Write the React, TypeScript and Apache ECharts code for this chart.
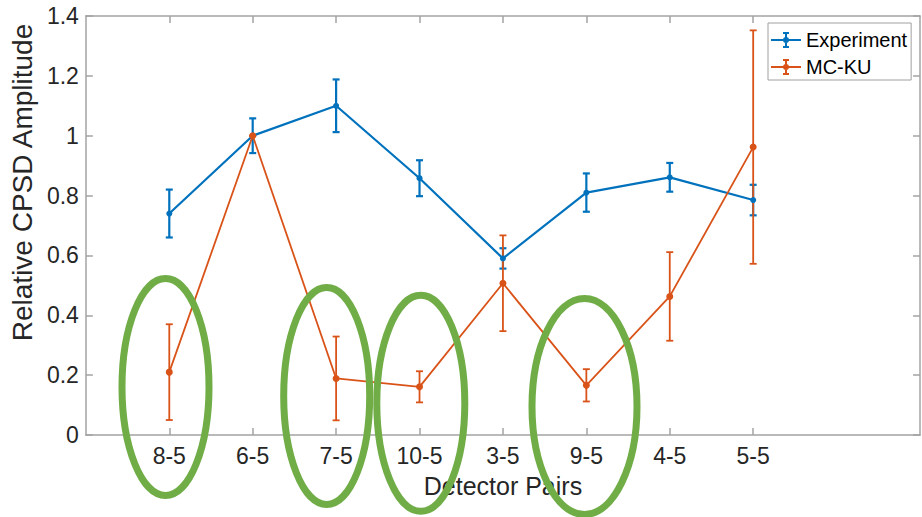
import React, { useEffect, useRef } from "react";
import * as echarts from "echarts";

const categories = ["8-5", "6-5", "7-5", "10-5", "3-5", "9-5", "4-5", "5-5"];
const expValues = [0.74, 1.0, 1.1, 0.858, 0.59, 0.81, 0.861, 0.785];
const expErrors = [0.08, 0.058, 0.088, 0.06, 0.034, 0.064, 0.048, 0.051];
const mcValues = [0.21, 1.0, 0.189, 0.161, 0.507, 0.166, 0.463, 0.962];
const mcErrors = [0.16, 0, 0.14, 0.052, 0.16, 0.054, 0.148, 0.39];
const yTicks = [0, 0.2, 0.4, 0.6, 0.8, 1, 1.2, 1.4];

const BLUE = "#0072BD";
const ORANGE = "#D95319";
const GREEN = "#70AD47";
const AXIS = "#a3a3a3";
const TEXT = "#262626";
const FONT = "'Liberation Sans', Arial, Helvetica, sans-serif";

const tickPositions = categories.map((_, i) => i + 1);

function lineData(values: number[]) {
  return values.map((v, i) => [i + 1, v]);
}
function errData(values: number[], errs: number[]) {
  return values.map((v, i) => [i + 1, v - errs[i], v + errs[i]]);
}

function errorSeries(name: string, values: number[], errs: number[], color: string, lw: number, cap: number) {
  return {
    name,
    type: "custom",
    xAxisIndex: 0,
    yAxisIndex: 0,
    data: errData(values, errs),
    encode: { x: 0, y: [1, 2] },
    silent: true,
    renderItem: (params: any, api: any) => {
      const x = api.value(0);
      const lo = api.coord([x, api.value(1)]);
      const hi = api.coord([x, api.value(2)]);
      const style = { stroke: color, lineWidth: lw, fill: "none" };
      return {
        type: "group",
        children: [
          { type: "line", shape: { x1: lo[0], y1: lo[1], x2: hi[0], y2: hi[1] }, style },
          { type: "line", shape: { x1: hi[0] - cap, y1: hi[1], x2: hi[0] + cap, y2: hi[1] }, style },
          { type: "line", shape: { x1: lo[0] - cap, y1: lo[1], x2: lo[0] + cap, y2: lo[1] }, style },
        ],
      };
    },
  };
}

const legendIcon =
  "path://M0,9H30V11H0Z M14,3H16V17H14Z M12,2H18V4H12Z M12,16H18V18H12Z M15,7A3,3 0 1 1 15,13A3,3 0 1 1 15,7Z";

export default function App() {
  const ref = useRef<HTMLDivElement>(null);
  useEffect(() => {
    if (!ref.current) return;
    const chart = echarts.init(ref.current, undefined, { renderer: "svg" });
    const axisLineStyle = { color: AXIS, width: 1.5 };
    chart.setOption({
      animation: false,
      backgroundColor: "#ffffff",
      textStyle: { fontFamily: FONT },
      grid: { left: 82, top: 16, right: 2, bottom: 82, containLabel: false },
      legend: {
        orient: "vertical",
        left: 768,
        top: 23,
        padding: [7, 4, 3, 3],
        itemGap: 7,
        itemWidth: 30,
        itemHeight: 16,
        borderColor: "#a0a0a0",
        borderWidth: 1,
        backgroundColor: "#ffffff",
        textStyle: { fontSize: 20, color: "#000000", fontFamily: FONT },
        data: [
          { name: "Experiment", icon: legendIcon },
          { name: "MC-KU", icon: legendIcon },
        ],
      },
      xAxis: [
        {
          type: "value",
          min: 0,
          max: 10,
          interval: 1,
          position: "bottom",
          name: "Detector Pairs",
          nameLocation: "middle",
          nameGap: 38,
          nameTextStyle: { fontSize: 25, color: TEXT, fontFamily: FONT },
          axisLine: { show: true, onZero: false, lineStyle: axisLineStyle },
          axisTick: { show: true, inside: true, length: 7, customValues: tickPositions, lineStyle: axisLineStyle },
          axisLabel: {
            show: true,
            customValues: tickPositions,
            formatter: (v: number) => categories[Math.round(v) - 1] ?? "",
            fontSize: 23,
            color: TEXT,
            margin: 9,
            fontFamily: FONT,
          },
          splitLine: { show: false },
        },
        {
          type: "value",
          min: 0,
          max: 10,
          interval: 1,
          position: "top",
          axisLine: { show: true, onZero: false, lineStyle: axisLineStyle },
          axisTick: { show: true, inside: true, length: 7, customValues: tickPositions, lineStyle: axisLineStyle },
          axisLabel: { show: false },
          splitLine: { show: false },
        },
      ],
      yAxis: [
        {
          type: "value",
          min: 0,
          max: 1.4,
          interval: 0.2,
          position: "left",
          name: "Relative CPSD Amplitude",
          nameLocation: "middle",
          nameGap: 42,
          nameTextStyle: { fontSize: 28, color: TEXT, fontFamily: FONT, padding: [0, 0, 0, 86] },
          axisLine: { show: true, onZero: false, lineStyle: axisLineStyle },
          axisTick: { show: true, inside: true, length: 7, lineStyle: axisLineStyle },
          axisLabel: {
            fontSize: 23,
            color: TEXT,
            margin: 7,
            fontFamily: FONT,
            formatter: (v: number) => {
              const t = yTicks.find((k) => Math.abs(k - v) < 1e-6);
              return String(t ?? v);
            },
          },
          splitLine: { show: false },
        },
        {
          type: "value",
          min: 0,
          max: 1.4,
          interval: 0.2,
          position: "right",
          axisLine: { show: true, onZero: false, lineStyle: axisLineStyle },
          axisTick: { show: true, inside: true, length: 7, lineStyle: axisLineStyle },
          axisLabel: { show: false },
          splitLine: { show: false },
        },
      ],
      series: [
        errorSeries("Experiment error", expValues, expErrors, BLUE, 2.2, 3.5),
        {
          name: "Experiment",
          type: "line",
          xAxisIndex: 0,
          yAxisIndex: 0,
          data: lineData(expValues),
          symbol: "circle",
          symbolSize: 6,
          color: BLUE,
          lineStyle: { color: BLUE, width: 2.2 },
          itemStyle: { color: BLUE },
          silent: true,
        },
        errorSeries("MC-KU error", mcValues, mcErrors, ORANGE, 1.8, 3.5),
        {
          name: "MC-KU",
          type: "line",
          xAxisIndex: 0,
          yAxisIndex: 0,
          data: lineData(mcValues),
          symbol: "circle",
          symbolSize: 7,
          color: ORANGE,
          lineStyle: { color: ORANGE, width: 1.8 },
          itemStyle: { color: ORANGE },
          silent: true,
        },
      ],
      graphic: [
        { type: "ellipse", z: 100, shape: { cx: 165.5, cy: 387, rx: 43.5, ry: 108.5 }, style: { fill: "none", stroke: GREEN, lineWidth: 7 } },
        { type: "ellipse", z: 100, shape: { cx: 326.7, cy: 396, rx: 43, ry: 108.5 }, style: { fill: "none", stroke: GREEN, lineWidth: 7 } },
        { type: "ellipse", z: 100, shape: { cx: 420.8, cy: 403.3, rx: 44, ry: 108 }, style: { fill: "none", stroke: GREEN, lineWidth: 7 } },
        { type: "ellipse", z: 100, shape: { cx: 584.5, cy: 406.5, rx: 52.5, ry: 108 }, style: { fill: "none", stroke: GREEN, lineWidth: 7 } },
      ],
    });
    return () => chart.dispose();
  }, []);
  return (
    <div
      ref={ref}
      style={{ position: "absolute", left: 0, top: 0, width: 922, height: 517, background: "#fff" }}
    />
  );
}
